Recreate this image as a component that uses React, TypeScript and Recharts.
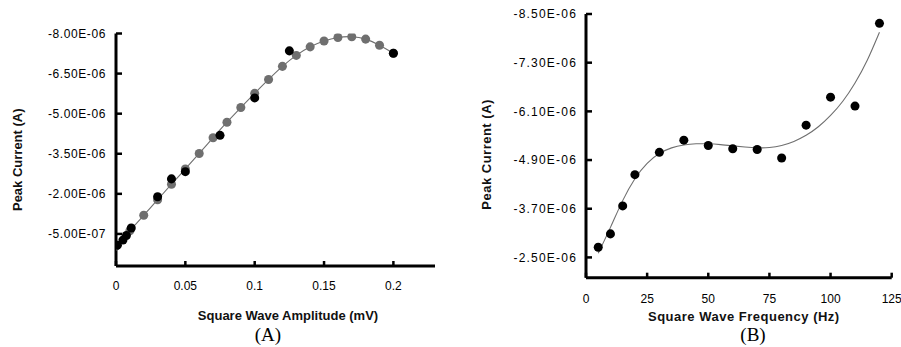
import React from 'react';
import { ScatterChart, ComposedChart, Scatter, Line, XAxis, YAxis, ZAxis, Label } from 'recharts';

// ---- Panel A: Square Wave Amplitude ----
const ampX = [0.001, 0.005, 0.0075, 0.011, 0.03, 0.04, 0.05, 0.075, 0.1, 0.125, 0.2];
const ampY = [-0.08e-6, -0.27e-6, -0.44e-6, -0.72e-6, -1.89e-6, -2.56e-6, -2.83e-6, -4.19e-6, -5.59e-6, -7.35e-6, -7.26e-6];
const ampFitX = [0, 0.01, 0.02, 0.03, 0.04, 0.05, 0.06, 0.07, 0.08, 0.09, 0.1, 0.11, 0.12, 0.13, 0.14, 0.15, 0.16, 0.17, 0.18, 0.19, 0.2];
const ampFitY = [-0.05e-6, -0.62e-6, -1.2e-6, -1.78e-6, -2.36e-6, -2.93e-6, -3.51e-6, -4.1e-6, -4.68e-6, -5.23e-6, -5.76e-6, -6.28e-6, -6.77e-6, -7.18e-6, -7.5e-6, -7.72e-6, -7.85e-6, -7.88e-6, -7.79e-6, -7.56e-6, -7.26e-6];
const ampXTicks = [0, 0.05, 0.1, 0.15, 0.2];
const ampYTicks = [-8e-6, -6.5e-6, -5e-6, -3.5e-6, -2e-6, -5e-7];

// ---- Panel B: Square Wave Frequency ----
const freqX = [5, 10, 15, 20, 30, 40, 50, 60, 70, 80, 90, 100, 110, 120];
const freqY = [-2.75e-6, -3.08e-6, -3.77e-6, -4.54e-6, -5.09e-6, -5.39e-6, -5.26e-6, -5.18e-6, -5.16e-6, -4.95e-6, -5.76e-6, -6.45e-6, -6.23e-6, -8.27e-6];
const freqFitX = [5, 10, 15, 20, 25, 30, 35, 40, 45, 50, 55, 60, 65, 70, 75, 80, 85, 90, 95, 100, 105, 110, 115, 120];
const freqFitY = [-2.6e-6, -3.24e-6, -3.9e-6, -4.44e-6, -4.82e-6, -5.06e-6, -5.2e-6, -5.27e-6, -5.3e-6, -5.3e-6, -5.28e-6, -5.25e-6, -5.22e-6, -5.2e-6, -5.21e-6, -5.26e-6, -5.36e-6, -5.51e-6, -5.72e-6, -6.0e-6, -6.35e-6, -6.8e-6, -7.36e-6, -8.05e-6];
const freqXTicks = [0, 25, 50, 75, 100, 125];
const freqYTicks = [-8.5e-6, -7.3e-6, -6.1e-6, -4.9e-6, -3.7e-6, -2.5e-6];

const zip = (xs: number[], ys: number[]) => xs.map((x, i) => ({ x, y: ys[i] }));
const fmtE = (v: number) => v.toExponential(2).replace('e-', 'E-0');

const FONT = '"Liberation Sans", Arial, Helvetica, sans-serif';
const SERIF = '"Liberation Serif", "Times New Roman", serif';

const yTitle = (text: string, cx: number, shift: number, spacing: number) => (props: any) => {
  const vb = props.viewBox || { x: 0, y: 0, width: 0, height: 0 };
  const cy = vb.y + vb.height / 2 + shift;
  return (
    <text x={cx} y={cy} transform={`rotate(-90, ${cx}, ${cy})`} textAnchor="middle" dominantBaseline="central"
      fontFamily={FONT} fontSize={13} fontWeight="bold" letterSpacing={spacing} fill="#111">
      {text}
    </text>
  );
};
const xTitle = (text: string, shift: number, offset: number, spacing: number) => (props: any) => {
  const vb = props.viewBox || { x: 0, y: 0, width: 0, height: 0 };
  return (
    <text x={vb.x + vb.width / 2 + shift} y={vb.y + vb.height - offset} textAnchor="middle"
      fontFamily={FONT} fontSize={13} fontWeight="bold" letterSpacing={spacing} fill="#111">
      {text}
    </text>
  );
};

function PanelA() {
  return (
    <ScatterChart width={450} height={347} margin={{ top: 33.5, right: 15, bottom: 21, left: 0 }}>
      <XAxis type="number" dataKey="x" domain={[0, 0.23]} ticks={ampXTicks} interval={0} allowDataOverflow height={60}
        axisLine={{ stroke: '#000', strokeWidth: 3 }} tickLine={{ stroke: '#000', strokeWidth: 2.5 }}
        tickSize={-5} tickMargin={20} tick={{ fill: '#000', fontSize: 12, fontFamily: FONT }}>
        <Label content={xTitle('Square Wave Amplitude (mV)', 12.5, 6.3, 0)} />
      </XAxis>
      <YAxis type="number" dataKey="y" domain={[-8e-6, 0.7e-6]} reversed ticks={ampYTicks} interval={0} allowDataOverflow width={116}
        axisLine={{ stroke: '#000', strokeWidth: 3 }} tickLine={{ stroke: '#000', strokeWidth: 2.5 }}
        tickSize={-6} tickMargin={16} tickFormatter={fmtE}
        tick={{ fill: '#000', fontSize: 12, fontFamily: FONT, letterSpacing: 0.6 }}>
        <Label content={yTitle('Peak Current (A)', 17, 10, 0)} />
      </YAxis>
      <ZAxis zAxisId="pts" range={[56, 56]} />
      <ZAxis zAxisId="fit" range={[0, 0]} />
      <Scatter zAxisId="fit" data={zip(ampFitX, ampFitY)} fill="#6f6f6f"
        line={{ stroke: '#6f6f6f', strokeWidth: 1.1 }} lineType="joint" lineJointType="natural" isAnimationActive={false} />
      <Scatter zAxisId="pts" data={zip(ampX, ampY)} fill="#000" isAnimationActive={false} />
    </ScatterChart>
  );
}

function PanelB() {
  return (
    <ComposedChart width={451} height={347} margin={{ top: 14, right: 9.3, bottom: 19.3, left: 0 }}>
      <XAxis type="number" dataKey="x" domain={[0, 125]} ticks={freqXTicks} interval={0} allowDataOverflow height={50}
        axisLine={{ stroke: '#000', strokeWidth: 3 }} tickLine={{ stroke: '#000', strokeWidth: 2.5 }}
        tickSize={-5} tickMargin={22} tick={{ fill: '#000', fontSize: 12, fontFamily: FONT }}>
        <Label content={xTitle('Square Wave Frequency (Hz)', 5, 6.3, 0.5)} />
      </XAxis>
      <YAxis type="number" dataKey="y" domain={[-8.5e-6, -2.0e-6]} reversed ticks={freqYTicks} interval={0} allowDataOverflow width={136}
        axisLine={{ stroke: '#000', strokeWidth: 3 }} tickLine={{ stroke: '#000', strokeWidth: 2.5 }}
        tickSize={-6} tickMargin={15} tickFormatter={fmtE}
        tick={{ fill: '#000', fontSize: 12, fontFamily: FONT, letterSpacing: 1.2 }}>
        <Label content={yTitle('Peak Current (A)', 36.7, 8.6, 0.5)} />
      </YAxis>
      <ZAxis range={[64, 64]} />
      <Line data={zip(freqFitX, freqFitY)} dataKey="y" type="natural" stroke="#6f6f6f" strokeWidth={1.1}
        dot={false} activeDot={false} isAnimationActive={false} />
      <Scatter data={zip(freqX, freqY)} fill="#000" isAnimationActive={false} />
    </ComposedChart>
  );
}

export default function App() {
  return (
    <div style={{ position: 'absolute', left: 0, top: 0, width: 901, height: 347, background: '#fff' }}>
      <div style={{ position: 'absolute', left: 0, top: 0 }}>
        <PanelA />
      </div>
      <div style={{ position: 'absolute', left: 450, top: 0 }}>
        <PanelB />
      </div>
      <div style={{ position: 'absolute', left: 218, top: 324, width: 100, textAlign: 'center', fontFamily: SERIF, fontSize: 19, lineHeight: '22px', color: '#000' }}>
        (A)
      </div>
      <div style={{ position: 'absolute', left: 703, top: 324, width: 100, textAlign: 'center', fontFamily: SERIF, fontSize: 19, lineHeight: '22px', color: '#000' }}>
        (B)
      </div>
    </div>
  );
}
